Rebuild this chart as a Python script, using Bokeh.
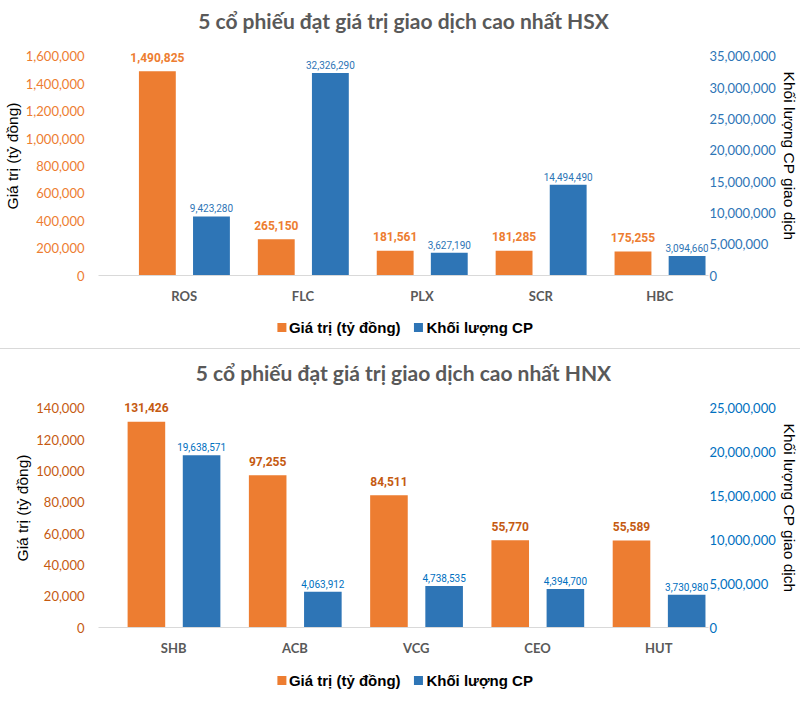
import math
from bokeh.plotting import figure
from bokeh.models import (ColumnDataSource, Range1d, LinearAxis, FixedTicker,
                          NumeralTickFormatter, Div)
from bokeh.layouts import column
from bokeh.core.properties import value
from bokeh.embed import file_html
from bokeh.resources import INLINE

# ---------------- data ----------------
hsx_title = "5 cổ phiếu đạt giá trị giao dịch cao nhất HSX"
hsx_codes = ["ROS", "FLC", "PLX", "SCR", "HBC"]
hsx_value = [1490825, 265150, 181561, 181285, 175255]
hsx_volume = [9423280, 32326290, 3627190, 14494490, 3094660]
hsx_left_ticks = [0, 200000, 400000, 600000, 800000, 1000000, 1200000, 1400000, 1600000]
hsx_right_ticks = [0, 5000000, 10000000, 15000000, 20000000, 25000000, 30000000, 35000000]

hnx_title = "5 cổ phiếu đạt giá trị giao dịch cao nhất HNX"
hnx_codes = ["SHB", "ACB", "VCG", "CEO", "HUT"]
hnx_value = [131426, 97255, 84511, 55770, 55589]
hnx_volume = [19638571, 4063912, 4738535, 4394700, 3730980]
hnx_left_ticks = [0, 20000, 40000, 60000, 80000, 100000, 120000, 140000]
hnx_right_ticks = [0, 5000000, 10000000, 15000000, 20000000, 25000000]

series_names = ["Giá trị (tỷ đồng)", "Khối lượng CP"]
left_axis_title = "Giá trị (tỷ đồng)"
right_axis_title = "Khối lượng CP giao dịch"

# ---------------- style ----------------
ORANGE = "#ED7D31"
BLUE = "#2E75B6"
W = 800
FRAME_L = 97
FRAME_R_BORDER = 91
TOP_PAD = 20 / 221          # room above the top tick for the value labels
LEG_SQ_X = [281, 418]       # legend swatch centres (px)
LEG_TXT_X = [288, 426]      # legend label starts (px)


def fmt(v):
    return f"{v:,}"


def make_chart(title, codes, values, volumes, lticks, rticks, height, top, x0, x1,
               ltick_col, rtick_col, olab_col, blab_col):
    n = len(codes)
    idx = list(range(n))
    p = figure(width=W, height=height, output_backend="svg", toolbar_location=None,
               x_range=Range1d(x0, n - 1 + x1),
               y_range=Range1d(lticks[0], lticks[-1] * (1 + TOP_PAD)),
               min_border_top=top, min_border_left=FRAME_L,
               min_border_right=FRAME_R_BORDER,
               min_border_bottom=0, outline_line_color=None)
    p.extra_y_ranges = {"vol": Range1d(rticks[0], rticks[-1] * (1 + TOP_PAD))}

    p.title.text = title
    p.title.align = "center"
    p.title.text_font = "Lato"
    p.title.text_font_size = "21px"
    p.title.text_font_style = "bold"
    p.title.text_color = "#595959"
    p.title.standoff = 8

    src = ColumnDataSource(dict(
        xo=[i - 0.225 for i in idx], xb=[i + 0.23 for i in idx],
        val=values, vol=volumes,
        vlab=[fmt(v) for v in values], blab=[fmt(v) for v in volumes]))

    p.vbar(x="xo", top="val", bottom=0, width=0.31, source=src,
           fill_color=ORANGE, line_color=None)
    p.vbar(x="xb", top="vol", bottom=0, width=0.31, source=src,
           fill_color=BLUE, line_color=None, y_range_name="vol")

    p.text(x="xo", y="val", text="vlab", source=src, text_align="center",
           text_baseline="alphabetic", y_offset=-14,
           text_font=value("Roboto"), text_font_style="bold",
           text_font_size="12px", text_color=olab_col)
    p.text(x="xb", y="vol", text="blab", source=src, text_align="center",
           text_baseline="alphabetic", y_offset=-8, y_range_name="vol",
           text_font=value("Roboto"),
           text_font_size="10px", text_color=blab_col)

    p.xgrid.visible = False
    p.ygrid.visible = False

    xa = p.xaxis[0]
    xa.ticker = FixedTicker(ticks=idx)
    xa.major_label_overrides = {i: c for i, c in enumerate(codes)}
    xa.axis_line_color = "#D9D9D9"
    xa.major_tick_line_color = None
    xa.minor_tick_line_color = None
    xa.major_tick_out = 0
    xa.major_tick_in = 0
    xa.major_label_standoff = 12
    xa.major_label_text_font = "Lato"
    xa.major_label_text_font_style = "bold"
    xa.major_label_text_font_size = "13px"
    xa.major_label_text_color = "#595959"

    ya = p.yaxis[0]
    ya.ticker = FixedTicker(ticks=lticks)
    ya.formatter = NumeralTickFormatter(format="0,0")
    ya.axis_line_color = None
    ya.major_tick_line_color = None
    ya.minor_tick_line_color = None
    ya.major_tick_out = 0
    ya.major_tick_in = 0
    ya.major_label_standoff = 14
    ya.major_label_text_font = "Lato"
    ya.major_label_text_font_size = "13px"
    ya.major_label_text_color = ltick_col
    ya.axis_label = left_axis_title
    ya.axis_label_text_font = "Liberation Sans"
    ya.axis_label_text_font_style = "normal"
    ya.axis_label_text_font_size = "15.5px"
    ya.axis_label_text_color = "#000000"
    ya.axis_label_standoff = 2

    ra = LinearAxis(y_range_name="vol", ticker=FixedTicker(ticks=rticks),
                    formatter=NumeralTickFormatter(format="0,0"))
    ra.axis_line_color = None
    ra.major_tick_line_color = None
    ra.minor_tick_line_color = None
    ra.major_tick_out = 0
    ra.major_tick_in = 0
    ra.major_label_standoff = 1
    ra.major_label_text_font = "Lato"
    ra.major_label_text_font_size = "13px"
    ra.major_label_text_color = rtick_col
    ra.axis_label = right_axis_title
    ra.axis_label_text_font = "Liberation Sans"
    ra.axis_label_text_font_style = "normal"
    ra.axis_label_text_font_size = "15.5px"
    ra.axis_label_text_color = "#000000"
    ra.axis_label_standoff = 2
    p.add_layout(ra, "right")
    return p


def make_legend_strip(height):
    s = figure(width=W, height=height, output_backend="svg",
               toolbar_location=None,
               x_range=Range1d(FRAME_L, W - FRAME_R_BORDER), y_range=Range1d(0, height),
               x_axis_location=None, y_axis_location=None,
               min_border_left=FRAME_L, min_border_right=FRAME_R_BORDER,
               min_border_top=0, min_border_bottom=0,
               outline_line_color=None)
    s.grid.visible = False
    src = ColumnDataSource(dict(sx=LEG_SQ_X, tx=LEG_TXT_X, y=[height / 2] * 2,
                                lab=series_names, col=[ORANGE, BLUE]))
    s.scatter(x="sx", y="y", source=src, marker="square", size=9,
              fill_color="col", line_color=None)
    s.text(x="tx", y="y", text="lab", source=src, text_align="left",
           text_baseline="middle", text_font=value("Liberation Sans"),
           text_font_style="bold", text_font_size="15px", text_color="#000000")
    return s


p1 = make_chart(hsx_title, hsx_codes, hsx_value, hsx_volume, hsx_left_ticks,
                hsx_right_ticks, 306, 36, -0.72, 0.41, ORANGE, BLUE, ORANGE, BLUE)
l1 = make_legend_strip(42)
divider = Div(text="", width=W, height=1, margin=0,
              styles={"background-color": "#D9D9D9"})
p2 = make_chart(hnx_title, hnx_codes, hnx_value, hnx_volume, hnx_left_ticks,
                hnx_right_ticks, 309, 39, -0.62, 0.41,
                "#C55A11", "#0070C0", "#C55A11", "#0070C0")
l2 = make_legend_strip(44)

layout = column(p1, l1, divider, p2, l2, spacing=0)

open("out.html", "w").write(file_html(layout, INLINE))
